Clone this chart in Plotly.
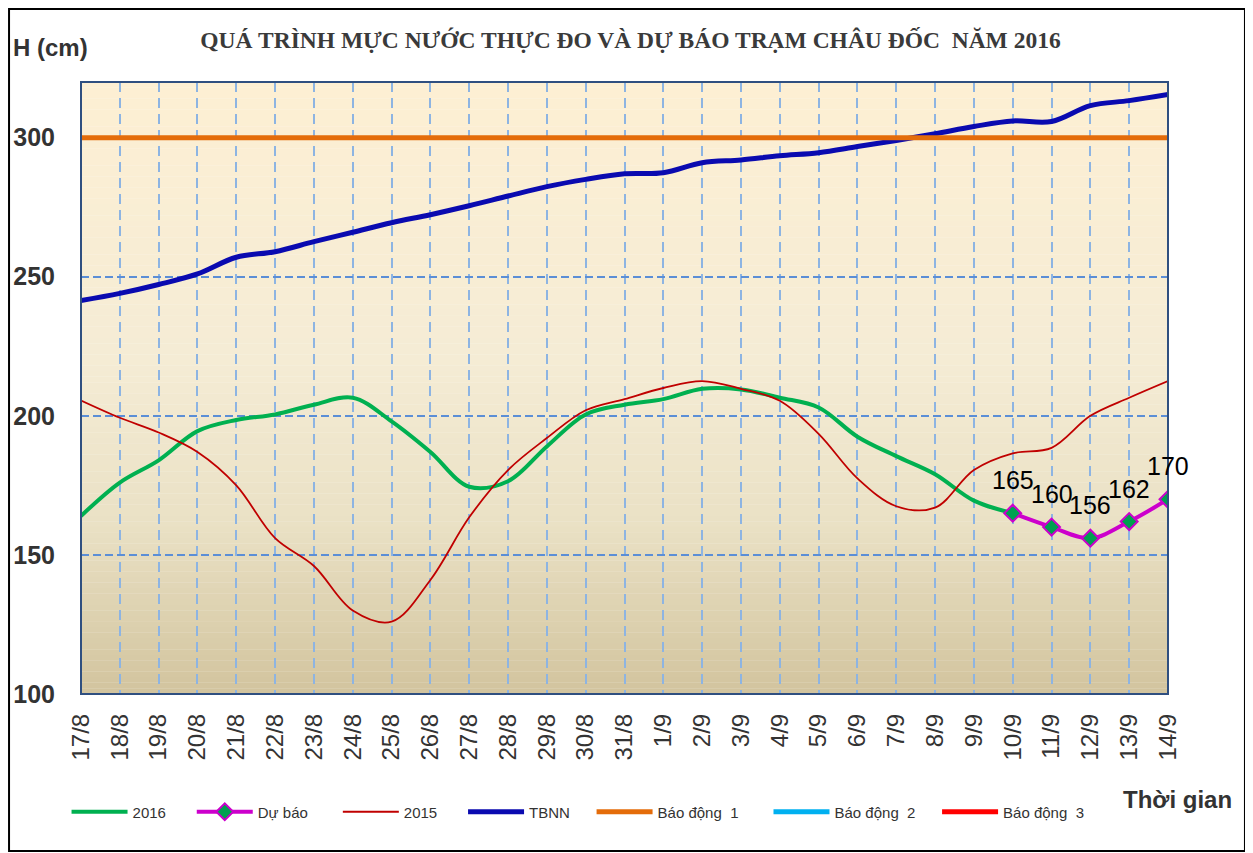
import plotly.graph_objects as go

# ---------------- data ----------------
dates = ["17/8", "18/8", "19/8", "20/8", "21/8", "22/8", "23/8", "24/8", "25/8", "26/8",
         "27/8", "28/8", "29/8", "30/8", "31/8", "1/9", "2/9", "3/9", "4/9", "5/9",
         "6/9", "7/9", "8/9", "9/9", "10/9", "11/9", "12/9", "13/9", "14/9"]

h2016 = [164, 176, 184, 194.5, 198.5, 200.5, 204, 206.5, 198, 187,
         174.5, 176.5, 189, 200.5, 204, 206, 209.7, 209.5, 206.5, 203,
         192.5, 185.5, 179, 169.5, 165, None, None, None, None]

forecast = [None] * 24 + [165, 160, 156, 162, 170]

h2015 = [205.5, 199.3, 194, 187, 175, 156, 146, 130, 126, 141,
         163.5, 180.5, 192, 202, 206, 210, 212.5, 209.7, 205.4, 193.5,
         177.5, 167.5, 167, 180.5, 186.5, 188.5, 200, 206.5, 212.5]

tbnn = [241.4, 244, 247.2, 251, 257, 259, 262.6, 266, 269.4, 272.3,
        275.5, 279, 282.4, 285, 287, 287.4, 291, 292, 293.5, 294.6,
        296.8, 299, 301.4, 304, 306, 305.8, 311.5, 313.3, 315.5]

alarm1 = [300] * len(dates)
alarm2 = [350] * len(dates)
alarm3 = [400] * len(dates)

y_ticks = [100, 150, 200, 250, 300]

series_names = ["2016", "Dự báo", "2015", "TBNN", "Báo động  1", "Báo động  2", "Báo động  3"]
legend_pad = [5, 6, 5, 4, 6, 4, 0]   # trailing spacing of legend entries

title_text = "QUÁ TRÌNH MỰC NƯỚC THỰC ĐO VÀ DỰ BÁO TRẠM CHÂU ĐỐC  NĂM 2016"

# ---------------- figure ----------------
NB = "\u00a0"
names = [n + NB * p for n, p in zip(series_names, legend_pad)]

fig = go.Figure()
spline = dict(shape="spline", smoothing=1.0)

fig.add_trace(go.Scatter(x=dates, y=h2016, name=names[0], mode="lines",
                         line=dict(color="#00B050", width=4, **spline),
                         connectgaps=False))
fig.add_trace(go.Scatter(x=dates, y=forecast, name=names[1], mode="lines+markers",
                         line=dict(color="#CC00CC", width=4, **spline),
                         marker=dict(symbol="diamond", size=13, color="#00A050",
                                     line=dict(color="#CC00CC", width=2))))
fig.add_trace(go.Scatter(x=dates, y=h2015, name=names[2], mode="lines",
                         line=dict(color="#C00000", width=1.8, **spline)))
fig.add_trace(go.Scatter(x=dates, y=tbnn, name=names[3], mode="lines",
                         line=dict(color="#0A0AB0", width=5, **spline)))
fig.add_trace(go.Scatter(x=dates, y=alarm1, name=names[4], mode="lines",
                         line=dict(color="#E46C0A", width=5)))
fig.add_trace(go.Scatter(x=dates, y=alarm2, name=names[5], mode="lines",
                         line=dict(color="#00B0F0", width=5)))
fig.add_trace(go.Scatter(x=dates, y=alarm3, name=names[6], mode="lines",
                         line=dict(color="#FF0000", width=5)))

# forecast value labels
annotations = []
for d, v in zip(dates, forecast):
    if v is not None:
        annotations.append(dict(x=d, y=v, xref="x", yref="y", text=str(v),
                                showarrow=False, yanchor="bottom", yshift=17,
                                font=dict(family="Liberation Sans, Arial", size=25,
                                          color="#000000")))

annotations.append(dict(text="H (cm)", xref="paper", yref="paper",
                        x=-0.0276, y=1.0556, xanchor="center", yanchor="middle",
                        showarrow=False,
                        font=dict(family="Liberation Sans, Arial", size=24,
                                  color="#333333", weight="bold")))
annotations.append(dict(text="Thời gian", xref="paper", yref="paper",
                        x=1.0083, y=-0.1716, xanchor="center", yanchor="middle",
                        showarrow=False,
                        font=dict(family="Liberation Sans, Arial", size=24,
                                  color="#333333", weight="bold")))

# background gradient bands (paper coordinates of plot area)
def lerp(c1, c2, t):
    return tuple(int(round(a + (b - a) * t)) for a, b in zip(c1, c2))

stops = [(0.0, (253, 239, 211)), (0.45, (245, 236, 213)), (0.72, (234, 225, 197)), (1.0, (210, 196, 158))]

def grad(t):
    for (t0, c0), (t1, c1) in zip(stops[:-1], stops[1:]):
        if t <= t1:
            return lerp(c0, c1, (t - t0) / (t1 - t0))
    return stops[-1][1]

shapes = []
N = 110
for i in range(N):
    top = 1 - i / N
    bot = 1 - (i + 1) / N
    c = grad((i + 0.5) / N)
    shapes.append(dict(type="rect", xref="paper", yref="paper", x0=0, x1=1,
                       y0=bot, y1=top + 0.0005, layer="below",
                       fillcolor="rgb(%d,%d,%d)" % c, line=dict(width=0)))

# plot-area border
shapes.append(dict(type="rect", xref="paper", yref="paper", x0=0, x1=1, y0=0, y1=1,
                   layer="above", line=dict(color="#2F4F80", width=2),
                   fillcolor="rgba(0,0,0,0)"))
# outer chart border
shapes.append(dict(type="rect", xref="paper", yref="paper",
                   x0=-0.0662, x1=1.0708, y0=-0.2565, y1=1.1193,
                   layer="above", line=dict(color="#000000", width=2),
                   fillcolor="rgba(0,0,0,0)"))

fig.update_layout(
    width=1245, height=845,
    margin=dict(l=73, r=85, t=74, b=159, autoexpand=False),
    paper_bgcolor="white",
    plot_bgcolor="rgba(0,0,0,0)",
    title=dict(text=title_text, x=0.5, xref="container",
               y=0.962, yref="container", xanchor="center", yanchor="middle",
               font=dict(family="Liberation Serif, Times New Roman", size=23.5,
                         color="#3A3A3A", weight="bold")),
    showlegend=True,
    legend=dict(orientation="h", x=-0.0133, y=-0.1928, xanchor="left", yanchor="middle",
                font=dict(family="Liberation Sans, Arial", size=15, color="#333333"),
                itemwidth=56, bgcolor="rgba(0,0,0,0)", traceorder="normal"),
    shapes=shapes,
    annotations=annotations,
)

fig.update_xaxes(type="category", range=[0, len(dates) - 1], tickangle=-90,
                 tickfont=dict(family="Liberation Sans, Arial", size=24, color="#333333"),
                 showgrid=True, gridcolor="#8DB4E2", gridwidth=2, griddash="10px,6px",
                 ticks="", ticklabelstandoff=14, showline=False, zeroline=False,
                 automargin=False)
fig.update_yaxes(range=[100, 320], tickvals=y_ticks,
                 tickfont=dict(family="Liberation Sans, Arial", size=25, color="#333333",
                               weight="bold"),
                 showgrid=True, gridcolor="#5B8ED6", gridwidth=1.5, griddash="8px,4px",
                 ticks="", ticklabelstandoff=25, showline=False, zeroline=False,
                 automargin=False)

fig.write_html("out.html")
